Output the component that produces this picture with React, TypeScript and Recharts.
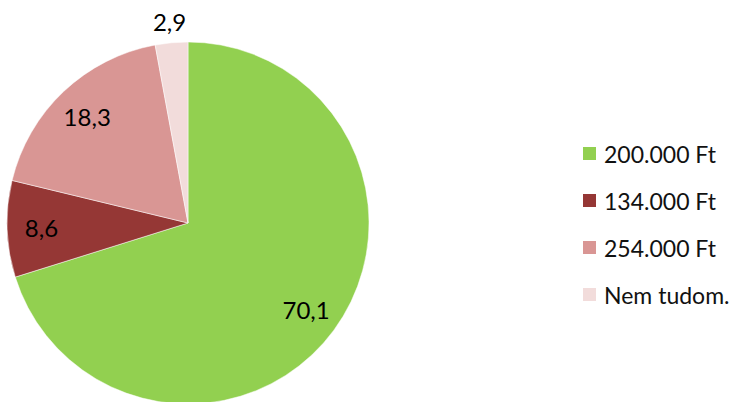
import React from "react";
import { PieChart, Pie, Cell, Legend } from "recharts";

const categories = ["200.000 Ft", "134.000 Ft", "254.000 Ft", "Nem tudom."];
const values = [70.1, 8.6, 18.3, 2.9];
const colors = ["#92D050", "#953735", "#D99694", "#F2DCDB"];

const data = categories.map((name, i) => ({ name, value: values[i] }));

const FONT = "Lato, 'Open Sans', sans-serif";
const RAD = Math.PI / 180;

const renderLabel = (props: any) => {
  const { cx, cy, midAngle, outerRadius, percent, index } = props;
  const r = percent < 0.05 ? outerRadius + 21 : outerRadius * 0.81;
  const x = cx + r * Math.cos(-midAngle * RAD);
  const y = cy + r * Math.sin(-midAngle * RAD);
  return (
    <text
      x={x}
      y={y}
      textAnchor="middle"
      dominantBaseline="central"
      fill="#000"
      fontSize={24}
      fontFamily={FONT}
    >
      {values[index].toFixed(1).replace(".", ",")}
    </text>
  );
};

const LegendContent = () => (
  <div style={{ fontFamily: FONT, fontSize: 23, color: "#111" }}>
    {categories.map((c, i) => (
      <div
        key={c}
        style={{ display: "flex", alignItems: "center", height: 47 }}
      >
        <div
          style={{
            width: 13,
            height: 13,
            background: colors[i],
            marginRight: 8,
          }}
        />
        <span>{c}</span>
      </div>
    ))}
  </div>
);

export default function App() {
  return (
    <div style={{ position: "absolute", left: 0, top: 0, background: "#fff" }}>
      <PieChart width={741} height={402} margin={{ top: 0, right: 0, bottom: 0, left: 0 }}>
        <Pie
          data={data}
          dataKey="value"
          nameKey="name"
          cx={188}
          cy={223}
          outerRadius={181}
          startAngle={90}
          endAngle={-270}
          stroke="#fff"
          strokeWidth={0.5}
          label={renderLabel}
          labelLine={false}
          isAnimationActive={false}
        >
          {data.map((d, i) => (
            <Cell key={d.name} fill={colors[i]} />
          ))}
        </Pie>
        <Legend
          content={<LegendContent />}
          wrapperStyle={{ left: 583, top: 130, width: 160 }}
        />
      </PieChart>
    </div>
  );
}
